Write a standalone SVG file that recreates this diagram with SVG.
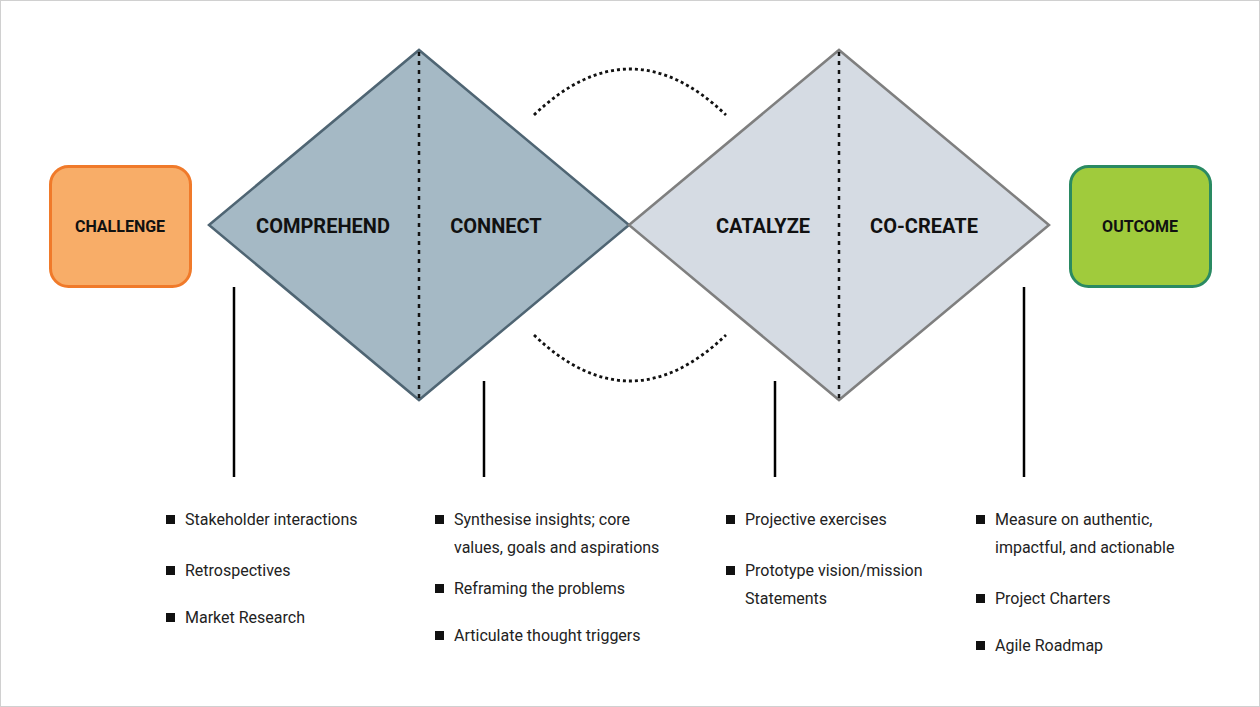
<svg xmlns="http://www.w3.org/2000/svg" width="1260" height="707" viewBox="0 0 1260 707">
<style>
.lbl{font-family:Roboto,"Liberation Sans",sans-serif;font-weight:bold;fill:#111;text-anchor:middle}
.big{font-size:20px}
.small{font-size:16px}
.item{font-family:Roboto,"Liberation Sans",sans-serif;font-size:16px;fill:#222}
.dot{stroke:#111;stroke-width:2.8;stroke-dasharray:3 3;fill:none}
.vdot{stroke:#111;stroke-width:2.5;stroke-dasharray:4 5;fill:none}
.stem{stroke:#000;stroke-width:2.5}
.bul{fill:#111}
</style>
<rect x="0.5" y="0.5" width="1259" height="706" fill="#fff" stroke="#d0d0d0"/>
<g id="challenge">
<rect x="50.5" y="166.5" width="140" height="120" rx="18" fill="#f8ad68" stroke="#f07a2a" stroke-width="3"/>
<text class="lbl small" x="120" y="232">CHALLENGE</text>
</g>
<g id="outcome">
<rect x="1070.5" y="166.5" width="140" height="120" rx="18" fill="#a0cb3c" stroke="#2a8a62" stroke-width="3"/>
<text class="lbl small" x="1140" y="232">OUTCOME</text>
</g>
<g id="diamond1">
<polygon points="209,225 419,50 629,225 419,400" fill="#a5b9c5" stroke="#4f6573" stroke-width="2.5"/>
<line class="vdot" x1="419" y1="52" x2="419" y2="399"/>
<text class="lbl big" x="323" y="233">COMPREHEND</text>
<text class="lbl big" x="496" y="233">CONNECT</text>
</g>
<g id="diamond2">
<polygon points="629,225 839,50 1049,225 839,400" fill="#d5dbe3" stroke="#7f7f7f" stroke-width="2.5"/>
<line class="vdot" x1="839" y1="52" x2="839" y2="399"/>
<text class="lbl big" x="763" y="233">CATALYZE</text>
<text class="lbl big" x="924" y="233">CO-CREATE</text>
</g>
<g id="connectors">
<path class="dot" d="M534,115 Q630,23 726,115"/>
<path class="dot" d="M534,335 Q630,427 726,335"/>
<line class="stem" x1="234" y1="287" x2="234" y2="477"/>
<line class="stem" x1="484" y1="381" x2="484" y2="477"/>
<line class="stem" x1="775" y1="381" x2="775" y2="477"/>
<line class="stem" x1="1024" y1="287" x2="1024" y2="477"/>
</g>
<g id="list1">
<rect class="bul" x="166" y="515" width="9" height="9"/>
<text class="item" x="185" y="525">Stakeholder interactions</text>
<rect class="bul" x="166" y="566" width="9" height="9"/>
<text class="item" x="185" y="576">Retrospectives</text>
<rect class="bul" x="166" y="613" width="9" height="9"/>
<text class="item" x="185" y="623">Market Research</text>
</g>
<g id="list2">
<rect class="bul" x="435" y="515" width="9" height="9"/>
<text class="item" x="454" y="525">Synthesise insights; core</text>
<text class="item" x="454" y="553">values, goals and aspirations</text>
<rect class="bul" x="435" y="584" width="9" height="9"/>
<text class="item" x="454" y="594">Reframing the problems</text>
<rect class="bul" x="435" y="631" width="9" height="9"/>
<text class="item" x="454" y="641">Articulate thought triggers</text>
</g>
<g id="list3">
<rect class="bul" x="726" y="515" width="9" height="9"/>
<text class="item" x="745" y="525">Projective exercises</text>
<rect class="bul" x="726" y="566" width="9" height="9"/>
<text class="item" x="745" y="576">Prototype vision/mission</text>
<text class="item" x="745" y="604">Statements</text>
</g>
<g id="list4">
<rect class="bul" x="976" y="515" width="9" height="9"/>
<text class="item" x="995" y="525">Measure on authentic,</text>
<text class="item" x="995" y="553">impactful, and actionable</text>
<rect class="bul" x="976" y="594" width="9" height="9"/>
<text class="item" x="995" y="604">Project Charters</text>
<rect class="bul" x="976" y="641" width="9" height="9"/>
<text class="item" x="995" y="651">Agile Roadmap</text>
</g>
</svg>
